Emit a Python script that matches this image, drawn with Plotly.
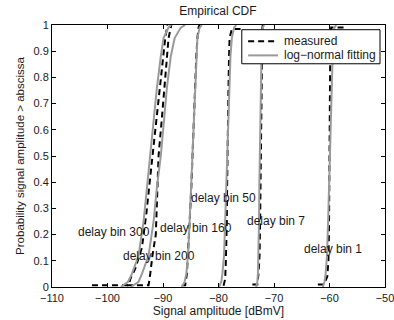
import plotly.graph_objects as go

# ---- data ----
fit_p = [0.0, 0.02, 0.05, 0.12, 0.25, 0.38, 0.5, 0.63, 0.76, 0.88, 0.95, 0.99, 1.0]
fit_300 = [-97.6, -96.3, -95.6, -94.4, -93.5, -92.9, -92.4, -91.8, -91.1, -90.4, -89.9, -89.0, -88.5]
fit_200 = [-95.8, -94.4, -93.8, -92.6, -91.7, -91.1, -90.4, -89.9, -89.3, -88.6, -87.9, -86.8, -86.0]
fit_160 = [-86.6, -86.1, -85.8, -85.5, -85.2, -84.95, -84.7, -84.5, -84.25, -84.0, -83.8, -83.4, -83.0]
fit_50 = [-79.9, -79.5, -79.3, -79.0, -78.8, -78.6, -78.45, -78.3, -78.1, -77.85, -77.6, -77.2, -76.8]
fit_7 = [-73.2, -73.0, -72.9, -72.8, -72.7, -72.65, -72.55, -72.5, -72.4, -72.3, -72.2, -72.0, -71.8]
fit_1 = [-61.2, -60.9, -60.7, -60.45, -60.25, -60.1, -59.95, -59.8, -59.65, -59.5, -59.35, -59.1, -58.8]

meas_300_x = [-102.8, -96.2, -95.9, -95.0, -93.8, -93.0, -92.4, -91.9, -91.3, -90.5, -90.0, -89.6, -89.2]
meas_300_p = [0.007, 0.007, 0.03, 0.07, 0.15, 0.28, 0.4, 0.5, 0.62, 0.76, 0.88, 0.95, 1.0]
meas_200_x = [-96.5, -92.6, -92.3, -91.9, -91.3, -91.1, -90.9, -90.8, -90.3, -89.7, -89.3, -89.0, -88.5]
meas_200_p = [0.007, 0.007, 0.05, 0.12, 0.2, 0.3, 0.4, 0.5, 0.62, 0.76, 0.88, 0.95, 1.0]
meas_160_x = [-86.6, -86.0, -85.7, -85.5, -85.2, -84.9, -84.7, -84.5, -84.3, -84.0, -83.8, -83.6, -83.4]
meas_160_p = [0.007, 0.007, 0.05, 0.12, 0.25, 0.38, 0.5, 0.62, 0.76, 0.88, 0.95, 0.99, 1.0]
meas_50_x = [-79.1, -78.8, -78.7, -78.6, -78.5, -78.45, -78.4, -78.3, -78.2, -78.1, -78.0, -77.6, -75.6]
meas_50_p = [0.005, 0.03, 0.08, 0.15, 0.25, 0.38, 0.5, 0.62, 0.76, 0.88, 0.95, 0.985, 0.985]
meas_7_x = [-73.9, -73.0, -72.8, -72.6, -72.5, -72.45, -72.4, -72.35, -72.3, -72.25, -72.2, -72.1, -72.0]
meas_7_p = [0.01, 0.01, 0.05, 0.12, 0.25, 0.38, 0.5, 0.62, 0.76, 0.88, 0.95, 0.99, 1.0]
meas_1_x = [-62.1, -61.0, -60.4, -60.2, -60.1, -60.05, -60.0, -60.0, -59.95, -59.9, -59.85, -59.7, -57.4]
meas_1_p = [0.01, 0.01, 0.04, 0.1, 0.2, 0.35, 0.5, 0.62, 0.76, 0.88, 0.95, 0.99, 0.99]

label_text = ["delay bin 300", "delay bin 200", "delay bin 160", "delay bin 50", "delay bin 7", "delay bin 1"]
label_x = [-98.9, -90.8, -84.05, -79.1, -69.6, -59.3]
label_y = [0.211, 0.117, 0.226, 0.341, 0.253, 0.145]

legend_names = ["measured", "log\u2212normal fitting"]

x_ticks = [-110, -100, -90, -80, -70, -60, -50]
y_ticks = [0, 0.1, 0.2, 0.3, 0.4, 0.5, 0.6, 0.7, 0.8, 0.9, 1]

FONT = "Liberation Sans, Arial, sans-serif"
TXT = "#1a1a1a"
GRAY = "#9a9a9a"
DASH = "6px,4px"
FS = 12
TFS = 11

fig = go.Figure()

measured = [(meas_300_x, meas_300_p), (meas_200_x, meas_200_p), (meas_160_x, meas_160_p),
            (meas_50_x, meas_50_p), (meas_7_x, meas_7_p), (meas_1_x, meas_1_p)]
fits = [fit_300, fit_200, fit_160, fit_50, fit_7, fit_1]

for mx, mp in measured:
    fig.add_trace(go.Scatter(x=mx, y=mp, mode="lines", name=legend_names[0],
                             line=dict(color="black", width=2, dash=DASH), showlegend=False))
for fx in fits:
    fig.add_trace(go.Scatter(x=fx, y=fit_p, mode="lines", name=legend_names[1],
                             line=dict(color=GRAY, width=2), showlegend=False))

for t, x, y in zip(label_text, label_x, label_y):
    fig.add_annotation(x=x, y=y, text=t, showarrow=False,
                       font=dict(family=FONT, size=FS, color=TXT))

# legend box drawn in paper coordinates (MATLAB-style compact legend)
fig.add_shape(type="rect", xref="paper", yref="paper", x0=0.570, x1=0.985, y0=0.852, y1=0.982,
              line=dict(color="black", width=1), fillcolor="white", layer="above")
leg_y = [0.938, 0.884]
leg_styles = [dict(color="black", width=2, dash=DASH), dict(color=GRAY, width=2)]
for name, yy, st in zip(legend_names, leg_y, leg_styles):
    fig.add_shape(type="line", xref="paper", yref="paper", x0=0.589, x1=0.679, y0=yy, y1=yy,
                  line=st, layer="above")
    fig.add_annotation(xref="paper", yref="paper", x=0.690, y=yy, text=name, showarrow=False,
                       xanchor="left", yanchor="middle",
                       font=dict(family=FONT, size=FS, color=TXT))

fig.update_layout(
    width=394, height=320,
    margin=dict(l=52, r=9, t=24.5, b=32.5, autoexpand=False),
    paper_bgcolor="white", plot_bgcolor="white",
    font=dict(family=FONT, size=FS, color=TXT),
    title=dict(text="Empirical CDF", x=0.553, xanchor="center", y=1 - 11 / 320,
               yanchor="middle", font=dict(family=FONT, size=FS, color=TXT)),
    showlegend=False,
)
fig.update_xaxes(range=[-110, -50], tickvals=x_ticks, ticks="inside", ticklen=4,
                 tickcolor="black", mirror="ticks", showline=True, linecolor="black",
                 linewidth=1, showgrid=False, zeroline=False, automargin=False,
                 tickfont=dict(family=FONT, size=TFS, color=TXT), ticklabelstandoff=1,
                 ticklabeloverflow="allow",
                 title=dict(text="Signal amplitude [dBmV]", standoff=1,
                            font=dict(family=FONT, size=FS, color=TXT)))
fig.update_yaxes(range=[0, 1], tickvals=y_ticks, ticks="inside", ticklen=4,
                 tickcolor="black", mirror="ticks", showline=True, linecolor="black",
                 linewidth=1, showgrid=False, zeroline=False, automargin=False,
                 tickfont=dict(family=FONT, size=TFS, color=TXT),
                 ticklabeloverflow="allow",
                 title=dict(text="Probability signal amplitude > abscissa", standoff=6,
                            font=dict(family=FONT, size=FS - 0.5, color=TXT)))

fig.write_html("out.html", config={"displayModeBar": False},
               post_script="document.body.style.margin='0';")
